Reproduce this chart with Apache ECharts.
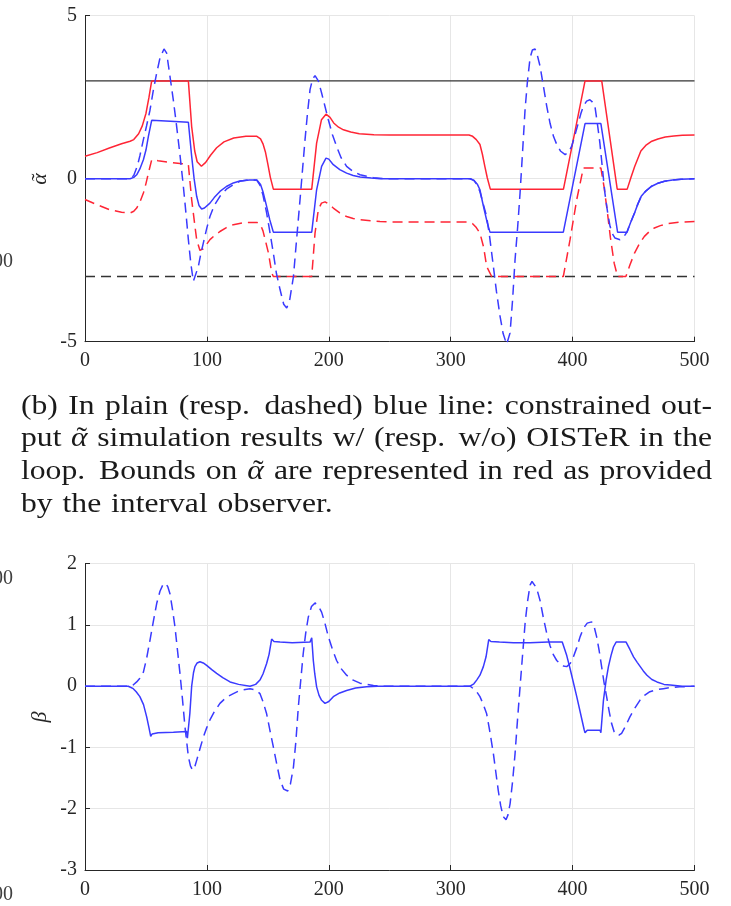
<!DOCTYPE html>
<html>
<head>
<meta charset="utf-8">
<script src="https://cdn.jsdelivr.net/npm/echarts@6/dist/echarts.min.js"></script>
<style>
  html, body { margin: 0; padding: 0; background: #ffffff; }
  #chart { width: 731px; height: 906px; }
</style>
</head>
<body>
<div id="chart"></div>
<script>
// ---- axes ----
const timeTicks = [0, 100, 200, 300, 400, 500];
const alphaTicks = [-5, 0, 5];
const betaTicks = [-3, -2, -1, 0, 1, 2];

// ---- alpha~ : admissible limits ----
const alphaMaxLimit = [[0, 3], [500, 3]];
const alphaMinLimit = [[0, -3], [500, -3]];

// ---- alpha~ : interval observer bounds ----
const alphaUpper = [
  [0,0.69],[10,0.8],[20,0.94],[30,1.07],[37,1.15],[40,1.2],[44,1.38],[47,1.62],[50,2.0],[52.5,2.5],[54.7,3],
  [84.8,3],[87.5,1.6],[90,0.85],[92,0.52],[95.5,0.38],[99,0.5],[103,0.72],[108,0.95],[114,1.13],[122,1.25],[132,1.3],
  [141,1.3],[144,1.22],[146,1.07],[148,0.82],[150,0.45],[152,0.05],[154.5,-0.32],
  [186,-0.32],[190,1.09],[194,1.81],[197.7,1.98],[201,1.88],[204,1.71],[208,1.58],[212,1.5],[218,1.43],[225,1.38],[237,1.35],[250,1.34],
  [315,1.34],[318,1.3],[321,1.2],[324,1.05],[326,0.75],[328,0.38],[330,0.03],[332.5,-0.32],
  [392.5,-0.32],[410.2,3],[423.9,3],[436.6,-0.32],
  [444.8,-0.32],[448,0.05],[451,0.38],[456,0.85],[460,1.02],[465,1.15],[470,1.22],[476,1.28],[483,1.31],[490,1.33],[500,1.34]
];
const alphaLower = [
  [0,-0.64],[10,-0.8],[20,-0.95],[30,-1.03],[37,-1.05],[40,-1.0],[42.4,-0.9],[45,-0.72],[47.9,-0.44],[50,-0.15],[52,0.17],[54.7,0.58],
  [60,0.55],[70,0.5],[80,0.46],[84.8,0.43],[87.5,-0.64],[90,-1.4],[91.6,-1.87],[94.3,-2.2],[97,-2.15],[100,-2.0],[102.5,-1.87],
  [106,-1.75],[110.7,-1.62],[116,-1.5],[121.7,-1.41],[132,-1.34],[141,-1.34],[144,-1.42],[146,-1.6],[148,-1.9],[150.5,-2.28],[153.2,-2.89],[154.5,-3],
  [186,-3],[188.7,-1.67],[191.4,-0.95],[194,-0.75],[196.9,-0.71],[200,-0.78],[203.7,-0.9],[209,-1.05],[214.6,-1.16],[220,-1.22],[225.6,-1.26],[242,-1.31],[250,-1.33],
  [315,-1.33],[318,-1.38],[321,-1.5],[324,-1.67],[327,-2.1],[329.5,-2.69],[333.6,-3],
  [392.4,-3],[397.9,-1.87],[403.4,-0.64],[408.8,0.33],[423.2,0.33],[426,-0.3],[428.6,-1.05],[431,-1.8],[434.1,-2.59],[436.9,-3],
  [443.7,-3],[447,-2.65],[450.8,-2.28],[455,-1.98],[458.9,-1.77],[463,-1.62],[467.1,-1.51],[472,-1.44],[478,-1.38],[489,-1.33],[500,-1.31]
];

// ---- alpha~ : closed loop with / without OISTeR ----
const alphaWith = [
  [0,0],[37,0],[40,0.04],[42.4,0.12],[45,0.3],[47.9,0.58],[50,0.88],[52,1.3],[54.7,1.79],[70,1.76],[84.8,1.73],
  [87.5,0.69],[89.5,0.0],[91.6,-0.54],[93.5,-0.82],[95.7,-0.93],[98,-0.9],[102.5,-0.75],[106,-0.58],[110.7,-0.39],[116,-0.24],[121.7,-0.13],[127,-0.07],[135,-0.04],
  [141,-0.04],[144,-0.18],[146,-0.4],[149,-0.85],[151.5,-1.25],[154.5,-1.64],
  [186,-1.64],[190,-0.34],[194.1,0.38],[197.7,0.63],[200,0.6],[203.7,0.43],[209,0.28],[214.6,0.17],[220,0.1],[225.6,0.05],[235,0.02],[242,0],
  [316,0],[319,-0.05],[322,-0.18],[324,-0.34],[326,-0.7],[328.1,-1.05],[330,-1.35],[332.2,-1.64],
  [392.4,-1.64],[410.2,1.69],[423.2,1.69],[436.9,-1.64],[444.6,-1.64],
  [447.5,-1.35],[450.8,-1.05],[453.5,-0.78],[456.3,-0.54],[460,-0.38],[464.5,-0.24],[470,-0.14],[475.4,-0.08],[482,-0.04],[489,-0.02],[500,0]
];
const alphaWithout = [
  [0,0],[37,0],[40,0.1],[43,0.4],[45,0.7],[47.9,1.2],[50.5,1.62],[53.3,2.1],[56,2.7],[58.8,3.24],[61.5,3.7],[64.8,3.98],[67,3.85],
  [69.7,3.14],[72.5,2.4],[75.2,1.6],[78,0.7],[80.7,-0.24],[82.8,-1.05],[84.8,-1.87],[86.8,-2.6],[88.9,-3.15],[90.5,-3.1],[93,-2.69],
  [95,-2.3],[97.1,-1.97],[100,-1.5],[102.5,-1.16],[106,-0.82],[110.7,-0.54],[116,-0.32],[121.7,-0.18],[127,-0.08],[135,-0.03],
  [141,-0.05],[143.5,-0.2],[146,-0.5],[149,-1.05],[151.5,-1.6],[154.5,-2.28],[157,-2.9],[160,-3.4],[163,-3.85],[165.5,-3.97],[168,-3.7],
  [171,-3.0],[173.5,-1.9],[176.4,-0.64],[178.5,0.3],[180.5,1.2],[182.5,2.0],[184.6,2.73],[186.6,3.05],[188.7,3.16],[191.4,3.0],
  [194.1,2.63],[197,2.2],[199.6,1.81],[203,1.35],[206.4,0.99],[210,0.65],[214.6,0.38],[220,0.22],[225.6,0.12],[236.6,0.03],[245,0],
  [316,0],[319,-0.05],[321.5,-0.18],[324,-0.4],[326.5,-0.75],[329.5,-1.16],[332,-1.8],[335,-2.69],[337.5,-3.45],[340.5,-4.22],
  [343,-4.75],[345.9,-5.08],[348.7,-4.73],[350.8,-3.7],[352.8,-2.48],[355,-1.45],[356.9,-0.44],[359,0.85],[361,2.12],[363,3.0],
  [365.1,3.7],[367,3.95],[369.2,3.98],[371,3.8],[373.3,3.45],[376,2.85],[378.8,2.22],[381.5,1.7],[384.3,1.3],[387,1.05],[390,0.85],
  [393.9,0.74],[396.5,0.8],[399.2,0.99],[402,1.35],[404.7,1.71],[406.8,2.0],[408.8,2.22],[411.5,2.38],[414.2,2.42],[416.3,2.35],
  [418.3,2.22],[420.3,1.7],[422.4,1.09],[424.5,0.3],[426.5,-0.44],[428.6,-1.0],[430.7,-1.46],[432.8,-1.7],[434.8,-1.82],[438.9,-1.87],
  [442,-1.78],[444.6,-1.64],[447.5,-1.35],[450.8,-1.05],[453.5,-0.78],[456.3,-0.54],[460,-0.38],[464.5,-0.24],[470,-0.14],
  [475.4,-0.08],[482,-0.04],[489,-0.02],[500,0]
];

// ---- beta : closed loop with / without OISTeR ----
const betaWith = [
  [0,0],[35.5,0],[39.6,-0.04],[42,-0.09],[45,-0.17],[48,-0.3],[50.6,-0.5],[52.5,-0.68],[53.9,-0.82],[55,-0.78],[60,-0.76],[72.5,-0.75],
  [83.4,-0.74],[84,-0.85],[84.8,-0.83],[86,-0.45],[87.5,0],[89,0.22],[90.2,0.32],[92,0.38],[94.3,0.4],[97,0.38],[99.8,0.34],[104,0.27],
  [108,0.21],[113,0.14],[119,0.07],[126,0.03],[135.4,0],[140,0.03],[143.5,0.1],[146,0.2],[149,0.37],[151,0.52],[153.1,0.77],[155,0.73],
  [160,0.72],[170,0.71],[184.6,0.72],[186,0.79],[187.3,0.42],[188.5,0.2],[190,-0.01],[192,-0.15],[194.1,-0.23],[196.9,-0.28],[200,-0.25],
  [203.7,-0.17],[209,-0.11],[214.6,-0.07],[222,-0.03],[231,-0.01],[240,0],[315.8,0],[319,0.04],[321.3,0.1],[324,0.18],[326.8,0.32],
  [329,0.48],[331.2,0.76],[333,0.73],[340,0.72],[351.4,0.71],[365,0.71],[380,0.72],[391.5,0.72],[392.4,0.74],[395.2,0.5],[397.9,0.29],
  [403.4,-0.17],[409.5,-0.71],[410.2,-0.76],[412,-0.72],[422.5,-0.72],[423.2,-0.76],[425.3,-0.23],[427.5,0.1],[429.4,0.32],[431.5,0.5],
  [433.5,0.64],[435.7,0.72],[443.9,0.72],[447,0.6],[450,0.48],[453,0.39],[455.5,0.32],[458,0.25],[461,0.18],[465,0.11],[469.2,0.07],
  [475,0.03],[480.1,0.02],[490,0],[500,0]
];
const betaWithout = [
  [0,0],[37,0],[39.5,0.02],[42.4,0.07],[45,0.13],[47.9,0.23],[50.5,0.45],[53.3,0.75],[56,1.05],[58.8,1.35],[61.5,1.55],[64,1.66],
  [66.2,1.68],[68,1.62],[69.7,1.51],[71.8,1.25],[73.8,0.97],[75.8,0.6],[77.9,0.21],[80,-0.22],[82,-0.66],[83.5,-0.92],[84.8,-1.15],
  [86.5,-1.3],[88.3,-1.37],[90,-1.32],[91.6,-1.21],[94.3,-1.02],[97.1,-0.83],[99.8,-0.68],[102.5,-0.55],[106,-0.42],[110.7,-0.28],
  [116,-0.18],[121.7,-0.12],[127,-0.07],[135.4,-0.04],[140,-0.06],[143.5,-0.12],[146,-0.25],[149,-0.45],[151.5,-0.7],[154.5,-0.99],
  [157.3,-1.27],[160,-1.53],[163,-1.68],[166.3,-1.71],[168.5,-1.6],[171,-1.32],[173,-0.9],[175,-0.34],[177,0.1],[179,0.53],[181,0.86],
  [183.2,1.13],[185.8,1.3],[188.7,1.36],[191.4,1.31],[194.1,1.21],[196.8,1.03],[199.6,0.81],[203,0.6],[206.4,0.42],[210,0.29],
  [214.6,0.18],[220,0.1],[225.6,0.05],[236.6,0.01],[245,0],[316,0],[318.6,-0.04],[321.3,-0.09],[324,-0.17],[326.8,-0.3],[329.5,-0.45],
  [332.2,-0.75],[335,-1.1],[337,-1.4],[339,-1.7],[341,-1.95],[343.1,-2.13],[345.4,-2.18],[347,-2.1],[348.7,-1.92],[350.8,-1.55],
  [352.8,-1.1],[354.8,-0.55],[356.9,-0.01],[359,0.52],[361,1.02],[363,1.38],[365.1,1.65],[366.7,1.71],[368.3,1.72],[370.5,1.6],
  [373.3,1.4],[376,1.12],[378.8,0.86],[381.5,0.66],[384.3,0.51],[387,0.42],[390,0.36],[392.5,0.33],[395.2,0.32],[398,0.37],[400.7,0.48],
  [403.4,0.63],[406.2,0.81],[409,0.95],[412,1.03],[415.6,1.05],[417.7,0.97],[419.7,0.81],[421.8,0.58],[423.8,0.32],[425.8,0.06],
  [427.9,-0.17],[430,-0.41],[432,-0.61],[434,-0.74],[436.1,-0.8],[438,-0.8],[440.2,-0.77],[443.5,-0.65],[447,-0.5],[451,-0.36],
  [455.2,-0.23],[459,-0.15],[463.4,-0.09],[468,-0.06],[474.4,-0.04],[481,-0.02],[488,-0.01],[500,0]
];

// ---- caption ----
const captionLines = [
  '(b) In plain (resp. dashed) blue line: constrained out-',
  'put α\u0303 simulation results w/ (resp. w/o) OISTeR in the',
  'loop. Bounds on α\u0303 are represented in red as provided',
  'by the interval observer.'
];

// ---------------------------------------------------------------
const SERIF = '"Liberation Serif", "Times New Roman", serif';
const INK = '#262626';
const GRID = '#e6e6e6';
const BLUE = '#3a3aff';
const RED = '#ff2535';
const DASH = [10, 6];

function xAxisFor(gridIndex, labelMargin) {
  return {
    type: 'value', gridIndex,
    min: timeTicks[0], max: timeTicks[timeTicks.length - 1],
    interval: timeTicks[1] - timeTicks[0],
    axisLine: { show: true, onZero: false, lineStyle: { color: INK, width: 1 } },
    axisTick: { show: true, inside: true, length: 5, lineStyle: { color: INK } },
    axisLabel: { color: INK, fontFamily: SERIF, fontSize: 20, margin: labelMargin },
    splitLine: { show: true, lineStyle: { color: GRID, width: 1 } }
  };
}
function yAxisFor(gridIndex, ticks) {
  return {
    type: 'value', gridIndex,
    min: ticks[0], max: ticks[ticks.length - 1],
    interval: ticks[1] - ticks[0],
    axisLine: { show: true, onZero: false, lineStyle: { color: INK, width: 1 } },
    axisTick: { show: true, inside: true, length: 5, lineStyle: { color: INK } },
    axisLabel: { color: INK, fontFamily: SERIF, fontSize: 20, margin: 8 },
    splitLine: { show: true, lineStyle: { color: GRID, width: 1 } }
  };
}
function curve(name, data, axis, color, dashed, width) {
  return {
    name, type: 'line', xAxisIndex: axis, yAxisIndex: axis, data,
    showSymbol: false, symbol: 'none', smooth: false, clip: true, silent: true,
    lineStyle: { color, width: width || 1.5, type: dashed ? DASH : 'solid' }
  };
}

// alpha with a tilde accent, drawn as two glyphs sharing one baseline
function alphaTilde(x, y, size, fill, extra) {
  return Object.assign({
    type: 'group', x, y, silent: true,
    children: [
      { type: 'text', x: 0, y: 0, style: { text: 'α', font: 'italic ' + size + 'px ' + SERIF, fill, align: 'center', verticalAlign: 'middle' } },
      { type: 'text', x: size * 0.08, y: 0, style: { text: '\u02dc', font: size + 'px ' + SERIF, fill, align: 'center', verticalAlign: 'middle' } }
    ]
  }, extra || {});
}

// justified caption, laid out word by word
const measure = document.createElement('canvas').getContext('2d');
const CAP_SIZE = 28, CAP_SX = 1.13, CAP_LEFT = 21, CAP_RIGHT = 712, CAP_MID = 406.5, CAP_STEP = 32.6;
const CAP_FONT = CAP_SIZE + 'px ' + SERIF;
const isAlpha = w => w.indexOf('α') >= 0;
function wordWidth(w) {
  measure.font = isAlpha(w) ? 'italic ' + CAP_FONT : CAP_FONT;
  return measure.measureText(isAlpha(w) ? 'α' : w).width * CAP_SX;
}
const captionText = [];
captionLines.forEach((line, i) => {
  const words = line.split(' ');
  const widths = words.map(wordWidth);
  const weights = words.slice(0, -1).map(w => /\.\)?$/.test(w) ? 1.4 : 1);
  let unit;
  if (i < captionLines.length - 1) {
    const free = (CAP_RIGHT - CAP_LEFT) - widths.reduce((a, b) => a + b, 0);
    unit = free / weights.reduce((a, b) => a + b, 0);
  } else {
    measure.font = CAP_FONT;
    unit = measure.measureText(' ').width * CAP_SX * 1.25;
  }
  let x = CAP_LEFT;
  const y = CAP_MID + i * CAP_STEP;
  words.forEach((w, k) => {
    if (isAlpha(w)) {
      captionText.push(alphaTilde(x + widths[k] / 2, y, CAP_SIZE, '#1a1a1a', { scaleX: CAP_SX }));
    } else {
      captionText.push({
        type: 'text', x, y, scaleX: CAP_SX, silent: true,
        style: { text: w, font: CAP_FONT, fill: '#1a1a1a', align: 'left', verticalAlign: 'middle' }
      });
    }
    x += widths[k] + (k < weights.length ? unit * weights[k] : 0);
  });
});

const chart = echarts.init(document.getElementById('chart'), null, { renderer: 'canvas' });
chart.setOption({
  animation: false,
  backgroundColor: '#ffffff',
  grid: [
    { left: 85, right: 36.5, top: 15.7, height: 326 },
    { left: 85, right: 36.5, top: 563.7, height: 306.3 }
  ],
  xAxis: [xAxisFor(0, 9), xAxisFor(1, 10)],
  yAxis: [yAxisFor(0, alphaTicks), yAxisFor(1, betaTicks)],
  series: [
    curve('limit max', alphaMaxLimit, 0, '#333333', false, 1.3),
    curve('limit min', alphaMinLimit, 0, '#333333', true, 1.3),
    curve('upper bound', alphaUpper, 0, RED, false),
    curve('lower bound', alphaLower, 0, RED, true),
    curve('alpha w/o OISTeR', alphaWithout, 0, BLUE, true),
    curve('alpha w/ OISTeR', alphaWith, 0, BLUE, false),
    curve('beta w/o OISTeR', betaWithout, 1, BLUE, true),
    curve('beta w/ OISTeR', betaWith, 1, BLUE, false)
  ],
  graphic: [
    alphaTilde(40, 179, 22, INK, { rotation: Math.PI / 2 }),
    { type: 'text', x: 40, y: 717, rotation: Math.PI / 2, silent: true,
      style: { text: 'β', font: 'italic 22px ' + SERIF, fill: INK, align: 'center', verticalAlign: 'middle' } },
    { type: 'text', x: 13, y: 262, silent: true,
      style: { text: '00', font: '20px ' + SERIF, fill: '#404040', align: 'right', verticalAlign: 'middle' } },
    { type: 'text', x: 13, y: 579, silent: true,
      style: { text: '00', font: '20px ' + SERIF, fill: '#404040', align: 'right', verticalAlign: 'middle' } },
    { type: 'text', x: 13, y: 895, silent: true,
      style: { text: '00', font: '20px ' + SERIF, fill: '#404040', align: 'right', verticalAlign: 'middle' } }
  ].concat(captionText)
});
</script>
</body>
</html>
